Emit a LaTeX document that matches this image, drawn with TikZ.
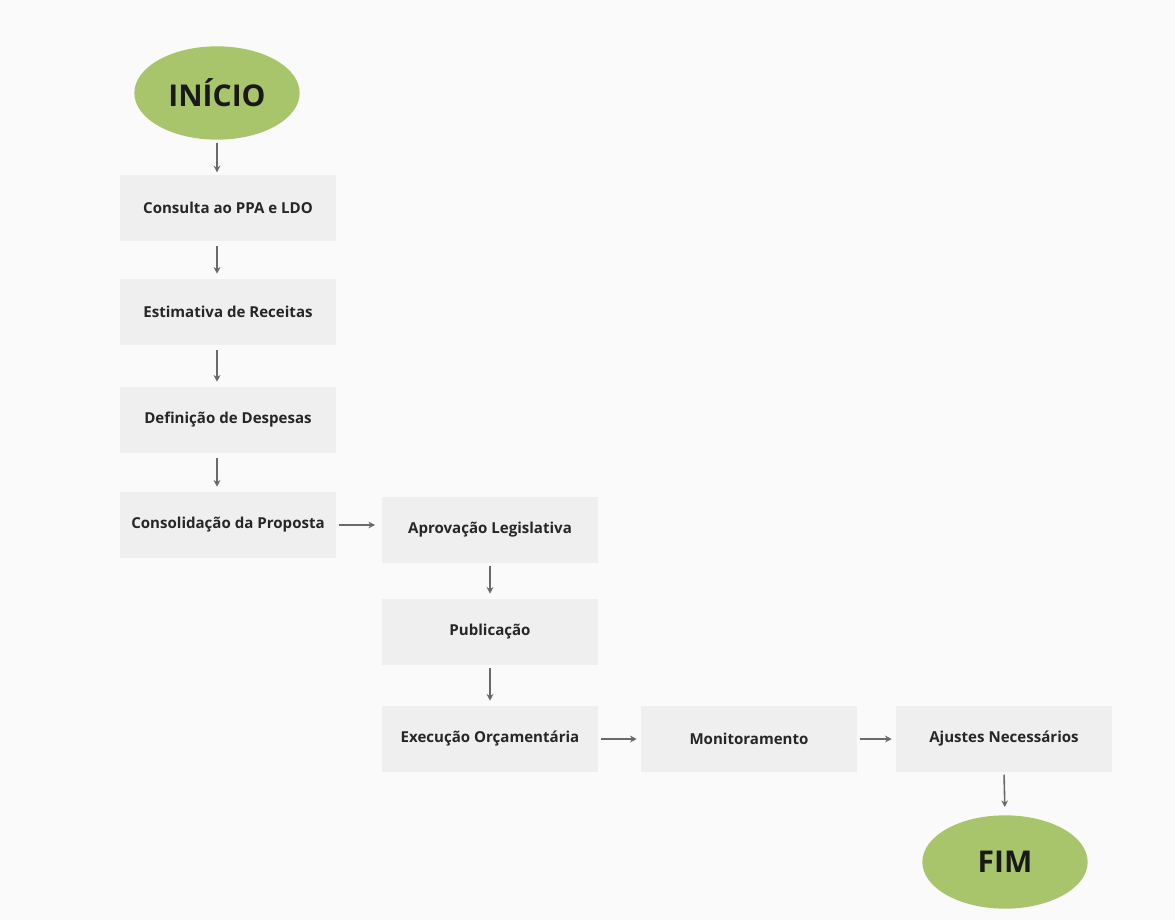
\documentclass[tikz,border=0pt]{standalone}
\usepackage{fontspec}
\setmainfont{Open Sans}
\usetikzlibrary{arrows.meta, positioning, shapes.geometric}
\definecolor{fundo}{HTML}{FAFAFA}
\definecolor{caixa}{HTML}{EFEFEF}
\definecolor{verde}{HTML}{A9C56C}
\definecolor{seta}{HTML}{6A6A6A}

\begin{document}
\begin{tikzpicture}[x=0.75pt, y=-0.75pt,
  etapa/.style={fill=caixa, minimum width=162pt, minimum height=49pt, inner sep=0pt, font=\bfseries\fontsize{11.3}{13}\selectfont, text=black!85},
  terminal/.style={ellipse, fill=verde, minimum width=124pt, minimum height=70pt, inner sep=0pt, font=\bfseries\fontsize{22.5}{26}\selectfont, text=black!90},
  fluxo/.style={-{Stealth[length=5pt,width=5pt]}, seta, line width=1.2pt}]
  \fill[fundo] (0,0) rectangle (1175,920);
  \useasboundingbox (0,0) rectangle (1175,920);

  % Terminais
  \node[terminal] (inicio) at (217,93) {INÍCIO};
  \node[terminal] (fim) at (1005,862) {FIM};

  % Coluna da proposta
  \node[etapa] (consulta) at (228,208) {Consulta ao PPA e LDO};
  \node[etapa] (estimativa) at (228,312) {Estimativa de Receitas};
  \node[etapa] (definicao) at (228,420) {Definição de Despesas};
  \node[etapa] (consolidacao) at (228,525) {Consolidação da Proposta};

  % Coluna da aprovacao
  \node[etapa] (aprovacao) at (490,530) {Aprovação Legislativa};
  \node[etapa] (publicacao) at (490,632) {Publicação};
  \node[etapa] (execucao) at (490,739) {Execução Orçamentária};

  % Linha final
  \node[etapa] (monitoramento) at (749,739) {Monitoramento};
  \node[etapa] (ajustes) at (1004,739) {Ajustes Necessários};

  % Setas verticais
  \draw[fluxo, shorten <=2pt, shorten >=2pt] (inicio.south) -- (inicio.south |- consulta.north);
  \foreach \a/\b in {consulta/estimativa, estimativa/definicao, definicao/consolidacao} {
    \draw[fluxo, shorten <=4pt, shorten >=4pt] (\a.south -| inicio) -- (\b.north -| inicio);
  }
  \foreach \a/\b in {aprovacao/publicacao, publicacao/execucao} {
    \draw[fluxo, shorten <=2pt, shorten >=4pt] (\a.south) -- (\b.north);
  }
  \draw[fluxo, shorten <=2pt, shorten >=6pt] (ajustes.south) -- (fim.north);

  % Setas horizontais
  \draw[fluxo, shorten <=2pt, shorten >=5pt] (consolidacao.east) -- (consolidacao.east -| aprovacao.west);
  \draw[fluxo, shorten <=2pt, shorten >=3pt] (execucao.east) -- (monitoramento.west);
  \draw[fluxo, shorten <=2pt, shorten >=3pt] (monitoramento.east) -- (ajustes.west);
\end{tikzpicture}
\end{document}
